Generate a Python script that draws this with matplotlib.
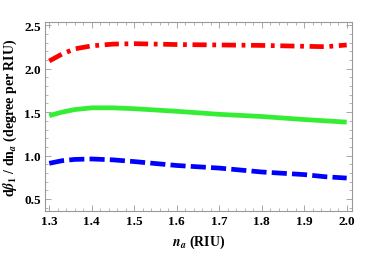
import matplotlib
matplotlib.use("Agg")
import matplotlib.pyplot as plt
from matplotlib.ticker import MultipleLocator

n_a = [1.30, 1.33, 1.36, 1.40, 1.45, 1.50, 1.60, 1.70, 1.80, 1.90, 1.95, 2.00]
red = [2.09, 2.17, 2.23, 2.265, 2.285, 2.29, 2.28, 2.275, 2.27, 2.26, 2.255, 2.275]
green = [1.46, 1.50, 1.53, 1.55, 1.55, 1.54, 1.51, 1.475, 1.45, 1.415, 1.40, 1.385]
blue = [0.91, 0.94, 0.955, 0.96, 0.95, 0.93, 0.885, 0.855, 0.81, 0.78, 0.755, 0.74]

plt.rcParams['font.family'] = ['Liberation Serif', 'DejaVu Serif']
plt.rcParams['font.weight'] = 'bold'
plt.rcParams['mathtext.fontset'] = 'stix'

fig = plt.figure(figsize=(3.74, 2.55), dpi=100)
ax = fig.add_axes([45/374, 1-212/255, (352-45)/374, (212-23)/255])

ax.plot(n_a, red, color='#ff0000', lw=3.4, linestyle=(0, (3, 1.2, 0.8, 1.2)), solid_capstyle='butt')
ax.plot(n_a, green, color='#33ee33', lw=3.4, solid_capstyle='butt')
ax.plot(n_a, blue, color='#0000ff', lw=3.4, linestyle=(0, (3.2, 1.1)))

ax.set_xlim(1.29, 2.0125)
ax.set_ylim(0.36, 2.54)
ax.xaxis.set_major_locator(MultipleLocator(0.1))
ax.xaxis.set_minor_locator(MultipleLocator(0.02))
ax.yaxis.set_major_locator(MultipleLocator(0.5))
ax.yaxis.set_minor_locator(MultipleLocator(0.1))
ax.tick_params(which='both', direction='in', top=True, right=True, color='#999999', labelsize=9.5, pad=3)
ax.tick_params(which='major', length=4, width=0.6)
ax.tick_params(which='minor', length=2, width=0.5)
for s in ax.spines.values():
    s.set_color('#999999')
    s.set_linewidth(0.8)
for lab in ax.get_xticklabels() + ax.get_yticklabels():
    lab.set_fontweight('bold')

ax.set_xlabel(r"$\boldsymbol{n}_{\boldsymbol{a}}$ (RIU)", fontsize=10, fontweight='bold', labelpad=4)
ax.set_ylabel(r"d$\boldsymbol{\beta}_{\mathbf{1}}$ / dn$_{\boldsymbol{a}}$ (degree per RIU)", fontsize=10, fontweight='bold', labelpad=4)

fig.savefig("out.png", dpi=100)
